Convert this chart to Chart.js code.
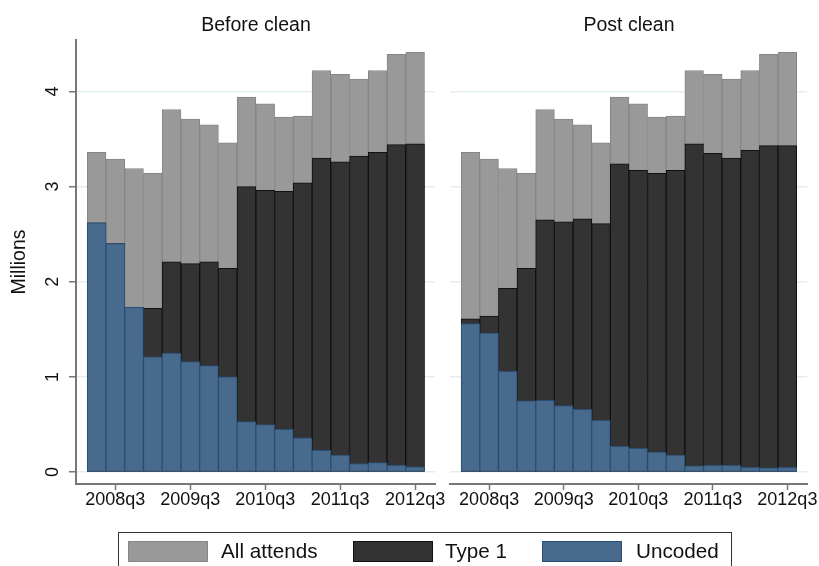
<!DOCTYPE html>
<html>
<head>
<meta charset="utf-8">
<script src="https://cdn.jsdelivr.net/npm/chart.js@4/dist/chart.umd.min.js"></script>
<style>
  body { margin: 0; background: #fff; font-family: "Liberation Sans", Arial, sans-serif; }
  #wrap { position: relative; width: 819px; height: 566px; overflow: hidden; }
  canvas { position: absolute; left: 0; top: 0; }
  .ptitle { position: absolute; top: 13px; font-size: 19.5px; color: #111; transform: translateX(-50%); white-space: nowrap; }
  #legend { position: absolute; left: 118px; top: 532px; width: 614px; height: 44px; border: 1px solid #333; box-sizing: border-box; }
  .sw { position: absolute; top: 8px; width: 80px; height: 21px; box-sizing: border-box; border: 1px solid; }
  .lt { position: absolute; top: 6px; font-size: 20.7px; color: #111; white-space: nowrap; }
</style>
</head>
<body>
<div id="wrap">
  <canvas id="before" width="819" height="566"></canvas>
  <canvas id="post" width="819" height="566"></canvas>
  <div class="ptitle" style="left:256px">Before clean</div>
  <div class="ptitle" style="left:629px">Post clean</div>
  <div id="legend">
    <div class="sw" style="left:9px;background:#999999;border-color:#858585"></div>
    <div class="lt" style="left:102px">All attends</div>
    <div class="sw" style="left:234px;background:#333333;border-color:#111111"></div>
    <div class="lt" style="left:326px">Type 1</div>
    <div class="sw" style="left:423px;background:#476a8d;border-color:#2a4f75"></div>
    <div class="lt" style="left:517px">Uncoded</div>
  </div>
</div>
<script>
// quarters 2008q2 .. 2012q3
const quarters = ['2008q2','2008q3','2008q4','2009q1','2009q2','2009q3','2009q4','2010q1','2010q2',
                  '2010q3','2010q4','2011q1','2011q2','2011q3','2011q4','2012q1','2012q2','2012q3'];
const xTickLabels = ['2008q3','2009q3','2010q3','2011q3','2012q3'];
const yTicks = [0, 1, 2, 3, 4];

// millions
const allAttends = [3.36,3.29,3.19,3.14,3.81,3.71,3.65,3.46,3.94,3.87,3.73,3.74,4.22,4.18,4.13,4.22,4.39,4.41];
const type1Before = [2.62,2.40,1.73,1.72,2.21,2.19,2.21,2.14,3.00,2.96,2.95,3.04,3.30,3.26,3.32,3.36,3.44,3.45];
const uncodedBefore = [2.62,2.40,1.73,1.21,1.25,1.16,1.12,1.00,0.53,0.50,0.45,0.36,0.23,0.18,0.09,0.10,0.07,0.055];
const type1Post = [1.61,1.64,1.93,2.14,2.65,2.63,2.66,2.61,3.24,3.17,3.14,3.17,3.45,3.35,3.30,3.38,3.43,3.43];
const uncodedPost = [1.56,1.46,1.06,0.75,0.755,0.70,0.66,0.545,0.27,0.25,0.21,0.18,0.065,0.07,0.07,0.05,0.045,0.05];

const FONT = '"Liberation Sans", Arial, sans-serif';
const axisCol = '#777777';
const gridCol = '#e4edf0';

function pts(arr) {
  return arr.map((v, i) => ({ x: i, y: v }));
}

function makeChart(id, type1, uncoded, isLeft) {
  return new Chart(document.getElementById(id), {
    type: 'bar',
    data: {
      datasets: [
        { label: 'Uncoded', data: pts(uncoded), backgroundColor: '#476a8d', borderColor: '#2a4f75', order: 0 },
        { label: 'Type 1', data: pts(type1), backgroundColor: '#333333', borderColor: '#111111', order: 1 },
        { label: 'All attends', data: pts(allAttends), backgroundColor: '#999999', borderColor: '#858585', order: 2 }
      ]
    },
    options: {
      responsive: false,
      animation: false,
      layout: { padding: isLeft ? { left: 0, right: 384, top: 40, bottom: 42 } : { left: 450, right: 11, top: 40, bottom: 42 } },
      datasets: { bar: { grouped: false, borderWidth: 1, borderSkipped: false, categoryPercentage: 1, barPercentage: 1 } },
      plugins: { legend: { display: false }, tooltip: { enabled: false } },
      scales: {
        x: {
          type: 'linear',
          offset: false,
          min: -1.1,
          max: 18.06,
          afterBuildTicks: s => { s.ticks = xTickLabels.map(l => ({ value: quarters.indexOf(l) })); },
          afterFit: s => { s.height = 40; },
          ticks: {
            autoSkip: false, maxRotation: 0, padding: 1,
            callback: v => quarters[v],
            font: { family: FONT, size: 18, lineHeight: 1 }, color: '#111'
          },
          grid: { offset: false, drawOnChartArea: false, drawTicks: true, tickLength: 6, tickColor: axisCol, tickWidth: 1.5 },
          border: { display: true, color: axisCol, width: 2 }
        },
        y: {
          min: -0.125,
          max: 4.54,
          afterBuildTicks: s => { s.ticks = yTicks.map(v => ({ value: v })); },
          afterFit: s => { s.width = isLeft ? 76 : 0; },
          ticks: {
            display: isLeft,
            minRotation: 90, maxRotation: 90,
            crossAlign: 'center',
            padding: 11,
            font: { family: FONT, size: 18 }, color: '#111'
          },
          grid: { offset: false, color: gridCol, lineWidth: 1.5, drawTicks: isLeft, tickLength: 7, tickColor: axisCol, tickWidth: 1.5 },
          border: { display: isLeft, color: axisCol, width: 2 },
          title: {
            display: isLeft, text: 'Millions', color: '#111',
            font: { family: FONT, size: 19.5 }, padding: { top: 8, bottom: 0 }
          }
        }
      }
    }
  });
}

makeChart('before', type1Before, uncodedBefore, true);
makeChart('post', type1Post, uncodedPost, false);
</script>
</body>
</html>
